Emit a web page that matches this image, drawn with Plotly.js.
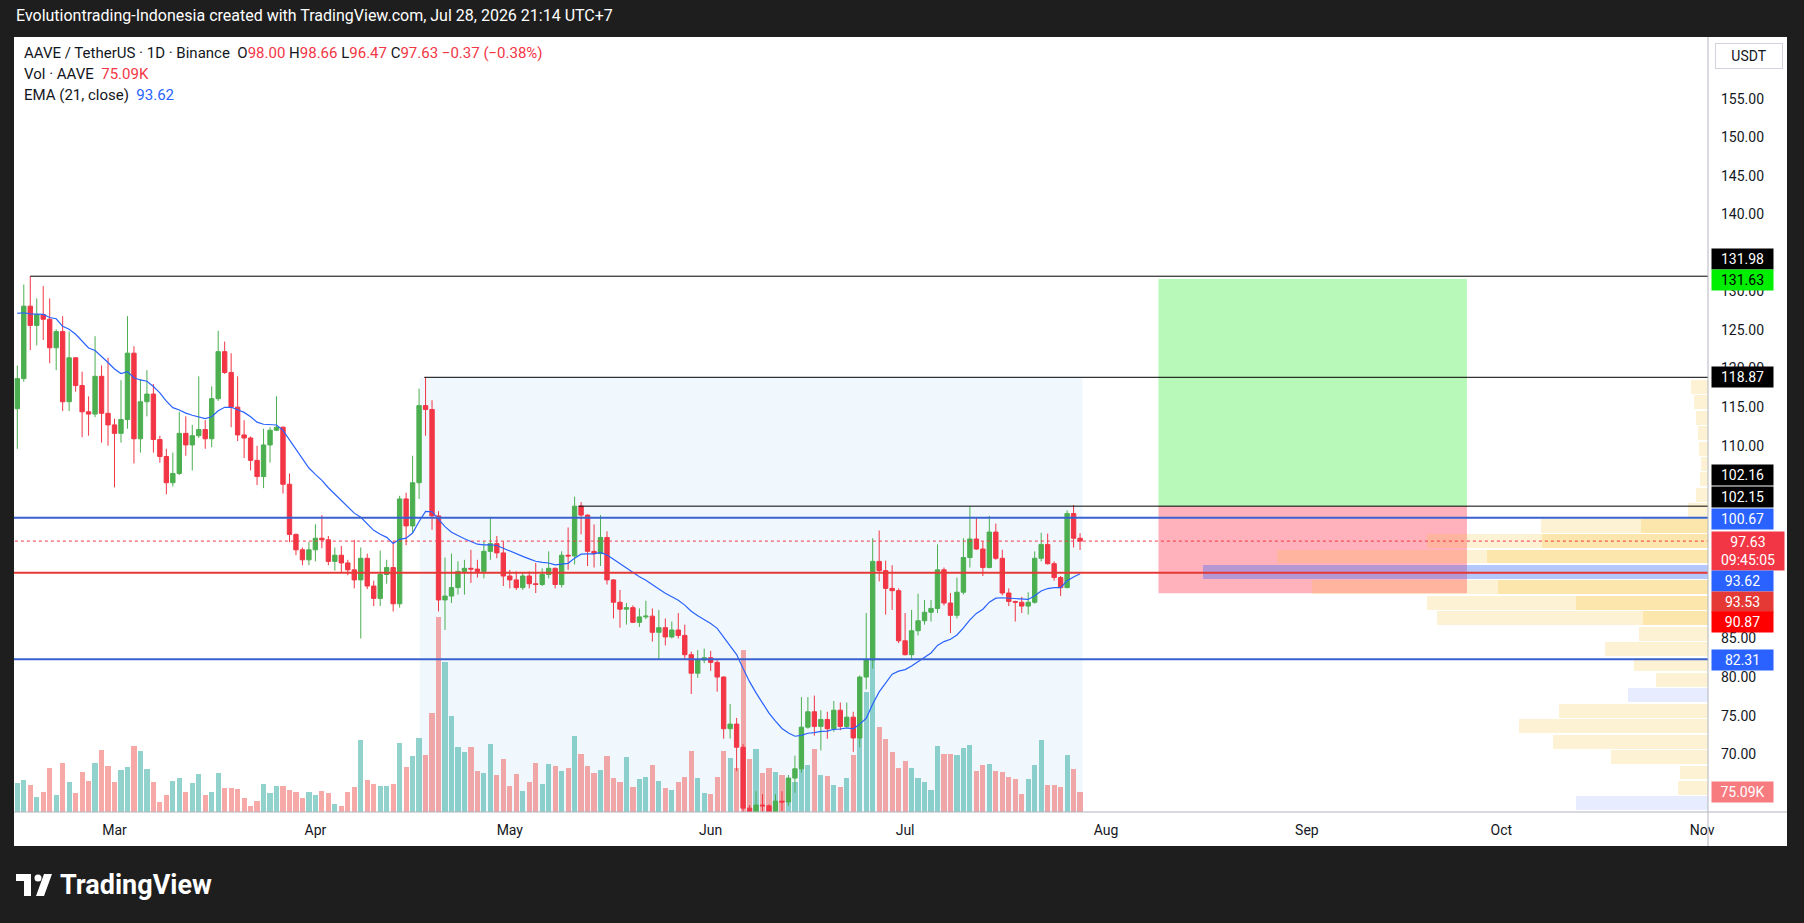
<!DOCTYPE html>
<html><head><meta charset="utf-8">
<script src="https://cdn.plot.ly/plotly-3.0.1.min.js"></script>
<style>html,body{margin:0;padding:0;background:#1e1e1e;overflow:hidden}#chart{width:1804px;height:923px}</style>
</head><body><div id="chart"></div>
<script>
// ---------------- DATA ----------------
const START_DATE = '2026-02-14';
const opens = [114.8,118.7,128.1,125.6,127.0,126.4,122.7,124.8,115.7,121.4,
117.8,114.4,114.1,119.0,114.2,112.7,111.6,113.4,122.0,110.9,
115.7,116.7,110.8,108.6,105.2,106.4,111.6,110.1,111.3,112.1,
110.9,116.1,122.2,119.5,115.0,111.4,111.0,108.1,106.0,110.1,
112.0,112.4,105.0,98.5,96.5,95.2,96.5,98.0,97.8,95.0,
95.8,94.8,93.9,92.6,95.4,91.8,90.2,93.3,94.2,89.5,
103.1,99.6,105.2,115.2,114.7,100.9,90.0,90.5,91.6,93.7,
94.1,94.0,93.7,96.3,97.3,96.1,93.1,92.6,91.6,93.1,
92.1,92.0,93.3,94.1,92.0,95.8,95.7,102.16,101.0,96.3,
96.0,98.1,92.6,89.7,88.8,89.0,87.1,87.8,87.9,85.8,
86.4,85.2,86.1,85.4,82.9,80.5,82.2,82.5,81.9,80.0,
73.3,73.9,70.9,63.0,62.4,63.4,63.3,62.4,63.9,63.8,
66.9,68.1,73.5,75.5,73.6,74.5,73.3,75.7,73.6,74.8,
72.1,80.0,82.2,95.0,93.8,91.5,91.2,84.7,82.9,86.0,
87.3,88.4,88.9,93.9,89.6,88.0,91.0,95.5,97.9,96.6,
94.2,98.8,95.4,90.9,89.8,89.7,89.2,89.7,95.4,97.2,
94.7,92.9,91.6,101.2,98.00];
const highs = [120.4,130.9,131.98,129.1,130.7,129.1,125.1,126.8,124.8,121.5,
119.6,116.4,124.2,120.4,121.4,113.5,118.5,126.8,122.9,118.6,
119.8,118.0,111.3,109.6,109.1,114.4,113.8,112.7,119.0,113.3,
117.7,124.9,123.5,122.0,119.0,113.3,111.2,110.0,112.2,112.4,
116.4,112.5,106.4,98.6,96.8,97.5,99.8,101.0,98.3,96.8,
97.0,95.2,97.8,96.8,96.0,92.5,96.4,95.2,97.6,103.5,
103.9,108.7,117.4,118.87,115.9,101.5,95.5,96.0,95.0,95.2,
96.5,95.2,97.6,100.7,98.3,97.6,93.9,93.7,93.5,93.7,
94.8,94.1,96.3,94.2,96.3,99.4,103.4,102.7,101.1,99.8,
101.0,98.9,92.7,91.3,89.6,89.3,88.9,89.9,88.9,88.7,
87.6,87.2,88.3,86.8,83.3,83.5,83.7,83.4,82.3,80.1,
76.5,74.7,71.3,63.4,65.2,64.8,63.5,64.8,65.2,67.3,
69.8,77.4,77.4,77.6,75.7,75.5,76.9,76.7,76.7,75.5,
80.2,88.3,98.0,99.0,95.1,94.5,91.5,88.3,88.7,90.8,
90.0,90.0,97.2,94.2,90.9,92.9,98.0,102.1,100.7,97.6,
100.9,99.9,96.5,91.5,89.9,90.4,91.0,96.3,98.7,98.6,
95.0,93.1,101.6,102.3,98.66];
const lows = [109.6,118.3,122.4,123.0,123.7,120.7,119.8,114.5,114.5,117.0,
111.1,111.3,113.7,110.4,110.0,104.6,110.4,112.2,107.7,109.1,
113.8,109.1,107.8,103.7,104.7,106.2,108.7,106.8,111.0,109.6,
109.8,115.8,119.3,112.4,110.6,108.4,106.8,104.9,104.5,107.8,
111.9,103.8,97.5,95.8,94.5,94.5,95.0,96.7,94.5,93.8,
93.5,93.2,91.5,85.0,91.4,89.2,89.2,92.1,88.5,89.0,
97.1,98.7,103.1,111.3,99.1,88.5,86.1,89.6,90.7,90.7,
92.2,92.9,92.8,95.2,95.4,91.8,91.5,91.3,91.3,91.5,
90.9,91.8,92.8,91.5,91.6,93.9,94.6,98.5,94.4,94.2,
94.4,92.0,87.6,86.4,86.8,87.0,86.5,87.5,84.6,82.3,
84.1,85.0,85.0,82.4,77.8,79.9,81.8,80.8,78.1,72.0,
72.0,67.8,61.0,61.8,62.0,62.0,62.0,62.0,62.6,63.3,
65.0,67.6,73.3,72.4,70.5,72.0,72.9,73.1,73.5,70.3,
70.9,78.4,81.1,92.4,88.1,88.7,84.4,82.8,82.4,85.4,
86.8,87.2,88.3,89.3,85.7,87.6,90.7,94.2,96.5,93.1,
94.1,95.2,90.6,89.2,87.2,88.3,88.1,89.5,95.0,94.6,
92.5,90.5,91.5,96.8,96.47];
const closes = [118.7,128.1,125.6,127.0,126.4,122.7,124.8,115.7,121.4,117.8,
114.4,114.1,119.0,114.2,112.7,111.6,113.4,122.0,110.9,115.7,
116.7,110.8,108.6,105.2,106.4,111.6,110.1,111.3,112.1,110.9,
116.1,122.2,119.5,115.0,111.4,111.0,108.1,106.0,110.1,112.0,
112.4,105.0,98.5,96.5,95.2,96.5,98.0,97.8,95.0,95.8,
94.8,93.9,92.6,95.4,91.8,90.2,93.3,94.2,89.5,103.1,
99.6,105.2,115.2,114.7,100.9,90.0,90.5,91.6,93.7,94.1,
94.0,93.7,96.3,97.3,96.1,93.1,92.6,91.6,93.1,92.1,
92.0,93.3,94.1,92.0,95.8,95.7,102.16,101.0,96.3,96.0,
98.1,92.6,89.7,88.8,89.0,87.1,87.8,87.9,85.8,86.4,
85.2,86.1,85.4,82.9,80.5,82.2,82.5,81.9,80.0,73.3,
73.9,70.9,63.0,62.4,63.4,63.3,62.4,63.9,63.8,66.9,
68.1,73.5,75.5,73.6,74.5,73.3,75.7,73.6,74.8,72.1,
80.0,82.2,95.0,93.8,91.5,91.2,84.7,82.9,86.0,87.3,
88.4,88.9,93.9,89.6,88.0,91.0,95.5,97.9,96.6,94.2,
98.8,95.4,90.9,89.8,89.7,89.2,89.7,95.4,97.2,94.7,
92.9,91.6,101.2,98.0,97.63];
const volumesK = [106,117,99,54,73,162,62,180,110,69,
147,114,180,228,169,110,154,165,243,225,
158,110,36,62,114,125,73,106,140,62,
73,143,88,88,84,51,21,40,102,69,
95,95,80,73,51,73,62,77,69,28,
21,73,91,265,117,105,95,95,105,256,
168,208,275,212,367,723,556,356,242,223,
242,153,145,253,138,197,97,142,79,112,
182,105,179,171,153,164,282,216,171,145,
157,208,127,112,205,94,123,131,175,116,
90,83,112,131,227,127,71,68,131,227,
200,163,600,196,233,144,163,148,137,85,
111,174,174,233,137,133,100,93,126,211,
315,444,574,315,270,222,163,189,163,126,
111,81,244,215,215,211,237,248,152,174,
178,152,148,130,122,67,122,174,266,100,
100,93,211,159,75.09];
const EMA_PERIOD = 21;
const EMA_SEED = 128.0;

// price scale tick labels shown (others are hidden behind the price labels)
const priceTicks = [70, 75, 80, 85, 110, 115, 120, 125, 130, 140, 145, 150, 155];

// levels / drawings
const RES_TOP = 131.98, RES_MID = 118.87, RES_LOW = 102.16;
const BLUE_LEVELS = [100.67, 82.31];
const RED_LEVEL = 93.53;
const LAST_PRICE = 97.63;
const TAKE_PROFIT = 131.63, ENTRY = 102.15, STOP_LOSS = 90.87;

// fixed range volume profile rows (price centre, inner volume, outer volume, inner kind)
const profilePrices = [61.63,63.63,65.63,67.63,69.63,71.63,73.63,75.63,77.63,79.63,
81.63,83.63,85.63,87.63,89.63,91.63,93.63,95.63,97.63,99.63,
101.63,103.63,105.63,107.63,109.63,111.63,113.63,115.63,117.63];
const profileInner = [0,132,0,0,0,0,0,0,80,0,
0,0,0,65,132,210,505,221,166,67,
0,0,0,0,0,0,0,0,0];
const profileOuter = [0,0,30,28,97,155,189,149,0,52,
74,103,69,206,149,186,0,210,115,100,
20,12,8,7,9,10,12,14,17];
const profileInnerKind = ['y','b','y','y','y','y','y','y','b','y',
'y','y','y','y','y','y','p','y','y','y',
'y','y','y','y','y','y','y','y','y'];

// ---------------- LAYOUT HELPERS ----------------
const PL = 14, PR = 1708, PT = 37, PB = 812;
const PW = PR - PL, PH = PB - PT;
const pxX = x => (x - PL) / PW;
const pxY = y => (PB - y) / PH;
const DAY = 86400000;
const T0 = Date.parse(START_DATE + 'T00:00:00Z');
const dayDate = d => new Date(T0 + d * DAY).toISOString().replace('T', ' ').slice(0, 19);
const dates = closes.map((_, i) => dayDate(i).slice(0, 10));

const ema = [];
(function () { let p = EMA_SEED; const k = 2 / (EMA_PERIOD + 1); closes.forEach(c => { p = p + k * (c - p); ema.push(p); }); })();

const GREEN = '#4caf50', RED = '#f23645';
const volColors = closes.map((c, i) => c >= opens[i] ? 'rgba(38,166,154,0.5)' : 'rgba(239,83,80,0.5)');
const kindColor = { y: 'rgba(251,192,45,0.4)', b: 'rgba(60,110,250,0.12)', p: 'rgba(60,110,250,0.38)' };
const innerColors = profileInnerKind.map(k => kindColor[k]);
const profileMax = Math.max(...profileInner.map((v, i) => v + profileOuter[i]));
const PROFILE_WIDTH_FRAC = 0.298;

const FONT = 'Roboto, "Liberation Sans", Arial, sans-serif';
const TXT = '#131722';

const traces = [
  { type: 'bar', x: dates, y: volumesK.map(v => v * 1000), xaxis: 'x', yaxis: 'y',
    marker: { color: volColors, line: { width: 0 } }, hoverinfo: 'skip', showlegend: false },
  { type: 'bar', orientation: 'h', y: profilePrices, x: profileInner, xaxis: 'x2', yaxis: 'y2', width: 1.8,
    marker: { color: innerColors, line: { width: 0 } }, hoverinfo: 'skip', showlegend: false },
  { type: 'bar', orientation: 'h', y: profilePrices, x: profileOuter, xaxis: 'x2', yaxis: 'y2', width: 1.8,
    marker: { color: 'rgba(251,192,45,0.2)', line: { width: 0 } }, hoverinfo: 'skip', showlegend: false },
  { type: 'candlestick', x: dates, open: opens, high: highs, low: lows, close: closes, xaxis: 'x', yaxis: 'y2',
    increasing: { line: { color: GREEN, width: 1 }, fillcolor: GREEN },
    decreasing: { line: { color: RED, width: 1 }, fillcolor: RED },
    whiskerwidth: 0, hoverinfo: 'skip', showlegend: false },
  { type: 'scatter', mode: 'lines', x: dates, y: ema, xaxis: 'x', yaxis: 'y2',
    line: { color: '#2962ff', width: 1.2 }, hoverinfo: 'skip', showlegend: false }
];

const FAR_RIGHT = dayDate(280);
const FAR_LEFT = dayDate(-5);
const shapes = [
  { type: 'rect', xref: 'paper', yref: 'paper', x0: 0, x1: pxX(1787), y0: pxY(846), y1: 1, fillcolor: '#ffffff', line: { width: 0 }, layer: 'below' },
  { type: 'rect', xref: 'x', yref: 'y2', x0: dayDate(62.1), x1: dayDate(164.4), y0: 55, y1: RES_MID, fillcolor: 'rgba(41,150,243,0.07)', line: { width: 0 }, layer: 'below' },
  { type: 'rect', xref: 'x', yref: 'y2', x0: dayDate(176.1), x1: dayDate(223.7), y0: ENTRY, y1: TAKE_PROFIT, fillcolor: 'rgba(0,230,0,0.28)', line: { width: 0 }, layer: 'below' },
  { type: 'rect', xref: 'x', yref: 'y2', x0: dayDate(176.1), x1: dayDate(223.7), y0: STOP_LOSS, y1: ENTRY, fillcolor: 'rgba(255,0,30,0.3)', line: { width: 0 }, layer: 'below' },
  { type: 'line', xref: 'x', yref: 'y2', x0: dayDate(2), x1: FAR_RIGHT, y0: RES_TOP, y1: RES_TOP, line: { color: '#000', width: 1 }, layer: 'above' },
  { type: 'line', xref: 'x', yref: 'y2', x0: dayDate(62.8), x1: FAR_RIGHT, y0: RES_MID, y1: RES_MID, line: { color: '#000', width: 1 }, layer: 'above' },
  { type: 'line', xref: 'x', yref: 'y2', x0: dayDate(86.6), x1: FAR_RIGHT, y0: RES_LOW, y1: RES_LOW, line: { color: '#000', width: 1 }, layer: 'above' },
  ...BLUE_LEVELS.map(v => ({ type: 'line', xref: 'x', yref: 'y2', x0: FAR_LEFT, x1: FAR_RIGHT, y0: v, y1: v, line: { color: '#3a62cf', width: 2 }, layer: 'above' })),
  { type: 'line', xref: 'x', yref: 'y2', x0: FAR_LEFT, x1: FAR_RIGHT, y0: RED_LEVEL, y1: RED_LEVEL, line: { color: '#e53935', width: 2 }, layer: 'above' },
  { type: 'line', xref: 'x', yref: 'y2', x0: FAR_LEFT, x1: FAR_RIGHT, y0: LAST_PRICE, y1: LAST_PRICE, line: { color: RED, width: 1, dash: 'dot' }, layer: 'above' },
  // pane borders
  { type: 'line', xref: 'paper', yref: 'paper', x0: 1, x1: 1, y0: pxY(846), y1: 1, line: { color: '#b2b5be', width: 1 }, layer: 'above' },
  { type: 'line', xref: 'paper', yref: 'paper', x0: 0, x1: pxX(1787), y0: 0, y1: 0, line: { color: '#b2b5be', width: 1 }, layer: 'above' },
  // TradingView logo mark
  { type: 'rect', xref: 'paper', yref: 'paper', x0: pxX(16), x1: pxX(31), y0: pxY(881), y1: pxY(874), fillcolor: '#fff', line: { width: 0 } },
  { type: 'rect', xref: 'paper', yref: 'paper', x0: pxX(24), x1: pxX(31), y0: pxY(896), y1: pxY(874), fillcolor: '#fff', line: { width: 0 } },
  { type: 'circle', xref: 'paper', yref: 'paper', x0: pxX(34.5), x1: pxX(41.5), y0: pxY(881.5), y1: pxY(874.5), fillcolor: '#fff', line: { width: 0 } },
  { type: 'path', xref: 'paper', yref: 'paper', path: `M ${pxX(44)} ${pxY(874)} L ${pxX(52)} ${pxY(874)} L ${pxX(44)} ${pxY(896)} L ${pxX(36)} ${pxY(896)} Z`, fillcolor: '#fff', line: { width: 0 } }
];

function axisLabel(text, yPx, bg, fg, w) {
  return { xref: 'paper', yref: 'paper', x: pxX(1711), y: pxY(yPx), xanchor: 'left', yanchor: 'middle',
    text: text, showarrow: false, bgcolor: bg, borderpad: 2, width: w || 57, align: 'center',
    font: { family: FONT, size: 14, color: fg || '#ffffff' } };
}
const red = s => `<span style="color:${RED}">${s}</span>`;
const NB = '\u00a0';
const annotations = [
  { xref: 'paper', yref: 'paper', x: pxX(14), y: pxY(15), xanchor: 'left', yanchor: 'middle', showarrow: false,
    text: 'Evolutiontrading-Indonesia created with TradingView.com, Jul 28, 2026 21:14 UTC+7', font: { family: FONT, size: 16, color: '#ffffff' } },
  { xref: 'paper', yref: 'paper', x: pxX(58), y: pxY(885), xanchor: 'left', yanchor: 'middle', showarrow: false,
    text: '<b>TradingView</b>', font: { family: FONT, size: 27, color: '#ffffff' } },
  { xref: 'paper', yref: 'paper', x: pxX(22), y: pxY(53), xanchor: 'left', yanchor: 'middle', showarrow: false,
    text: `AAVE / TetherUS · 1D · Binance${NB}${NB}O${red('98.00')}${NB}H${red('98.66')}${NB}L${red('96.47')}${NB}C${red('97.63')}${NB}${red('−0.37 (−0.38%)')}`,
    font: { family: FONT, size: 15, color: TXT } },
  { xref: 'paper', yref: 'paper', x: pxX(22), y: pxY(74), xanchor: 'left', yanchor: 'middle', showarrow: false,
    text: `Vol · AAVE${NB}${NB}${red('75.09K')}`, font: { family: FONT, size: 15, color: TXT } },
  { xref: 'paper', yref: 'paper', x: pxX(22), y: pxY(95), xanchor: 'left', yanchor: 'middle', showarrow: false,
    text: `EMA (21, close)${NB}${NB}<span style="color:#2962ff">93.62</span>`, font: { family: FONT, size: 15, color: TXT } },
  { xref: 'paper', yref: 'paper', x: pxX(1748.5), y: pxY(55.5), xanchor: 'center', yanchor: 'middle', showarrow: false,
    text: 'USDT', bgcolor: '#ffffff', bordercolor: '#d1d4dc', borderwidth: 1, borderpad: 4, width: 58,
    font: { family: FONT, size: 14, color: TXT } },
  axisLabel(RES_TOP.toFixed(2), 259, '#000000'),
  axisLabel(TAKE_PROFIT.toFixed(2), 280, '#00ee00', '#000000'),
  axisLabel(RES_MID.toFixed(2), 377, '#000000'),
  axisLabel(RES_LOW.toFixed(2), 475, '#000000'),
  axisLabel(ENTRY.toFixed(2), 497, '#000000'),
  axisLabel(BLUE_LEVELS[0].toFixed(2), 519, '#2962ff'),
  axisLabel(LAST_PRICE.toFixed(2) + '<br>09:45:05', 551, RED, '#ffffff', 68),
  axisLabel('93.62', 581, '#2962ff'),
  axisLabel(RED_LEVEL.toFixed(2), 602, '#e53935'),
  axisLabel(STOP_LOSS.toFixed(2), 622, '#ff0000'),
  axisLabel(BLUE_LEVELS[1].toFixed(2), 660, '#2962ff'),
  axisLabel('75.09K', 792, '#f77c80')
];

const layout = {
  width: 1804, height: 923,
  margin: { l: PL, r: 1804 - PR, t: PT, b: 923 - PB, pad: 0 },
  paper_bgcolor: '#1e1e1e', plot_bgcolor: '#ffffff',
  showlegend: false, hovermode: false, dragmode: false,
  barmode: 'stack', bargap: 0.2, boxgap: 0.25, boxgroupgap: 0.1,
  font: { family: FONT, color: TXT },
  xaxis: { type: 'date', range: [dayDate(-0.51), dayDate(260.9)], showgrid: false, zeroline: false,
    tickformat: '%b', dtick: 'M1', tick0: '2026-01-01', ticks: '', ticklabelstandoff: 8,
    tickfont: { family: FONT, size: 14, color: TXT }, rangeslider: { visible: false }, showline: false, fixedrange: true },
  yaxis: { range: [0, 2870000], visible: false, fixedrange: true },
  yaxis2: { overlaying: 'y', side: 'right', anchor: 'x', range: [62.5, 163.0], tickmode: 'array', tickvals: priceTicks,
    ticktext: priceTicks.map(v => v.toFixed(2)),
    showgrid: false, zeroline: false, ticks: '', ticklabelstandoff: 12, showline: false,
    tickfont: { family: FONT, size: 14, color: TXT }, fixedrange: true },
  xaxis2: { overlaying: 'x', anchor: 'y2', range: [profileMax / PROFILE_WIDTH_FRAC, 0], visible: false, fixedrange: true },
  shapes: shapes,
  annotations: annotations
};

Plotly.newPlot('chart', traces, layout, { displayModeBar: false, staticPlot: true });
</script>
</body></html>
